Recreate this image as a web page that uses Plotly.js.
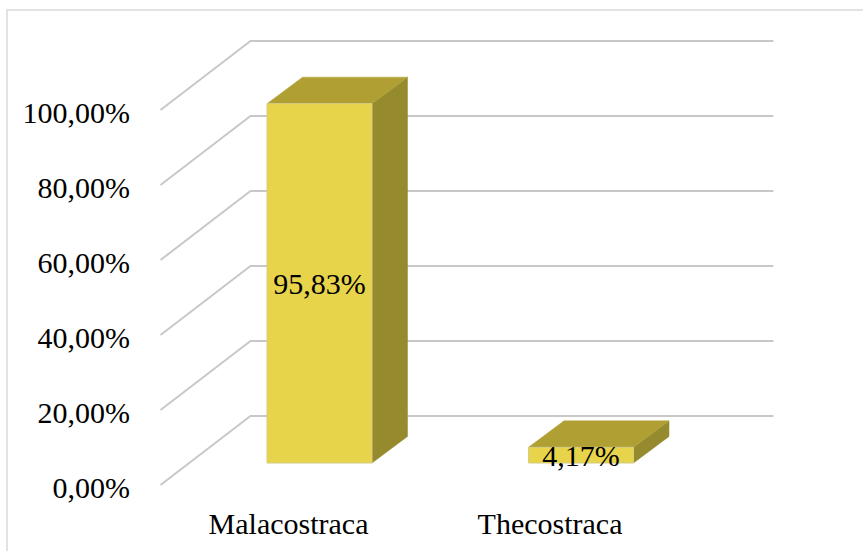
<!DOCTYPE html>
<html>
<head>
<meta charset="utf-8">
<script src="https://cdn.plot.ly/plotly-3.0.1.min.js"></script>
<style>html,body{margin:0;padding:0;background:#fff;}</style>
</head>
<body>
<div id="chart" style="width:863px;height:551px;"></div>
<script>
// ---- data ----
const categories = ['Malacostraca', 'Thecostraca'];
const shares = [0.9583, 0.0417];
const yTicks = [0, 0.2, 0.4, 0.6, 0.8, 1.0];

// ---- style ----
const FONT = '"Liberation Serif", "Times New Roman", serif';
const FRONT_COLOR = '#E8D44A';
const TOP_COLOR = '#B0A034';
const SIDE_COLOR = '#958A2E';
const GRID_COLOR = '#C8C8C8';
const BAR_W = 0.4015;
const DEPTH = {dx: 0.1358, dy: 0.0707};   // bar depth (axis units)
const BACK = {dx: 0.2361, dy: 0.1253};    // back wall offset
const FRONT = {dx: -0.1080, dy: -0.0587}; // floor front edge offset

const xIdx = categories.map((c, i) => i);
const X_MIN = -0.5, X_MAX = categories.length - 0.5;

const shapes = [];
// chart border
shapes.push({type: 'rect', xref: 'paper', yref: 'paper', x0: -0.2234, x1: 1.125, y0: -0.1277, y1: 1.04255,
  line: {color: '#D9D9D9', width: 1.5}, fillcolor: 'rgba(0,0,0,0)', layer: 'below'});
// 3D gridlines: side-wall diagonal + back wall line
yTicks.forEach(v => {
  shapes.push({type: 'path', xref: 'x', yref: 'y', layer: 'below',
    path: `M ${X_MIN + FRONT.dx},${v + FRONT.dy} L ${X_MIN + BACK.dx},${v + BACK.dy} L ${X_MAX + BACK.dx},${v + BACK.dy}`,
    line: {color: GRID_COLOR, width: 2}, fillcolor: 'rgba(0,0,0,0)'});
});
// 3D bar faces (top + side)
xIdx.forEach((xi, i) => {
  const v = shares[i];
  const L = xi - BAR_W / 2, R = xi + BAR_W / 2;
  shapes.push({type: 'path', xref: 'x', yref: 'y', layer: 'below',
    path: `M ${R},0 L ${R + DEPTH.dx},${DEPTH.dy} L ${R + DEPTH.dx},${v + DEPTH.dy} L ${R},${v} Z`,
    fillcolor: SIDE_COLOR, line: {color: SIDE_COLOR, width: 0.5}});
  shapes.push({type: 'path', xref: 'x', yref: 'y', layer: 'below',
    path: `M ${L},${v} L ${R},${v} L ${R + DEPTH.dx},${v + DEPTH.dy} L ${L + DEPTH.dx},${v + DEPTH.dy} Z`,
    fillcolor: TOP_COLOR, line: {color: TOP_COLOR, width: 0.5}});
});

const trace = {
  type: 'bar', x: xIdx, y: shares, width: BAR_W,
  marker: {color: FRONT_COLOR, line: {color: '#D6CB84', width: 1}},
  texttemplate: '%{y:.2%}', textposition: 'inside', insidetextanchor: 'middle',
  constraintext: 'none', textangle: 0,
  textfont: {family: FONT, size: 30, color: '#000'},
  hoverinfo: 'none', cliponaxis: false
};

const layout = {
  width: 863, height: 551,
  margin: {l: 150, r: 73, t: 30, b: 51, pad: 0},
  paper_bgcolor: '#fff', plot_bgcolor: 'rgba(0,0,0,0)',
  separators: ', ',
  showlegend: false,
  font: {family: FONT, size: 30, color: '#000'},
  xaxis: {range: [-0.6482, 1.7992], tickvals: xIdx, ticktext: categories,
    showgrid: false, zeroline: false, showline: false, ticks: '',
    ticklabelshift: -31, ticklabelstandoff: 3,
    tickfont: {family: FONT, size: 30, color: '#000'}},
  yaxis: {range: [-0.09867, 1.15467], tickvals: yTicks, tickformat: '.2%',
    showgrid: false, zeroline: false, showline: false, ticks: '',
    ticklabelshift: 24, ticklabelstandoff: 19,
    tickfont: {family: FONT, size: 30, color: '#000'}},
  shapes: shapes
};

Plotly.newPlot('chart', [trace], layout, {displayModeBar: false, staticPlot: true});
</script>
</body>
</html>
